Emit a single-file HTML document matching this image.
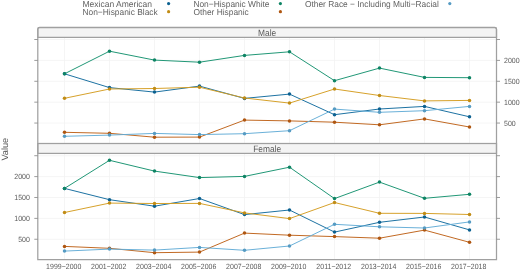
<!DOCTYPE html>
<html><head><meta charset="utf-8"><style>
html,body{margin:0;padding:0;background:#fff;}
body{width:520px;height:269px;overflow:hidden;}
svg{display:block;font-family:"Liberation Sans", sans-serif;filter:blur(0.35px);text-rendering:geometricPrecision;}
</style></head><body>
<svg width="520" height="269" viewBox="0 0 520 269">
<rect x="0" y="0" width="520" height="269" fill="#fff"/>
<line x1="37.8" y1="123.06" x2="496.5" y2="123.06" stroke="#f3f3f3" stroke-width="0.8"/>
<line x1="37.8" y1="102.17" x2="496.5" y2="102.17" stroke="#f3f3f3" stroke-width="0.8"/>
<line x1="37.8" y1="81.29" x2="496.5" y2="81.29" stroke="#f3f3f3" stroke-width="0.8"/>
<line x1="37.8" y1="60.40" x2="496.5" y2="60.40" stroke="#f3f3f3" stroke-width="0.8"/>
<line x1="37.8" y1="39.51" x2="496.5" y2="39.51" stroke="#f3f3f3" stroke-width="0.8"/>
<line x1="64.5" y1="37.4" x2="64.5" y2="143.5" stroke="#f3f3f3" stroke-width="0.8"/>
<line x1="109.5" y1="37.4" x2="109.5" y2="143.5" stroke="#f3f3f3" stroke-width="0.8"/>
<line x1="154.5" y1="37.4" x2="154.5" y2="143.5" stroke="#f3f3f3" stroke-width="0.8"/>
<line x1="199.5" y1="37.4" x2="199.5" y2="143.5" stroke="#f3f3f3" stroke-width="0.8"/>
<line x1="244.5" y1="37.4" x2="244.5" y2="143.5" stroke="#f3f3f3" stroke-width="0.8"/>
<line x1="289.5" y1="37.4" x2="289.5" y2="143.5" stroke="#f3f3f3" stroke-width="0.8"/>
<line x1="334.5" y1="37.4" x2="334.5" y2="143.5" stroke="#f3f3f3" stroke-width="0.8"/>
<line x1="379.5" y1="37.4" x2="379.5" y2="143.5" stroke="#f3f3f3" stroke-width="0.8"/>
<line x1="424.5" y1="37.4" x2="424.5" y2="143.5" stroke="#f3f3f3" stroke-width="0.8"/>
<line x1="469.5" y1="37.4" x2="469.5" y2="143.5" stroke="#f3f3f3" stroke-width="0.8"/>
<line x1="37.8" y1="239.26" x2="496.5" y2="239.26" stroke="#f3f3f3" stroke-width="0.8"/>
<line x1="37.8" y1="218.38" x2="496.5" y2="218.38" stroke="#f3f3f3" stroke-width="0.8"/>
<line x1="37.8" y1="197.49" x2="496.5" y2="197.49" stroke="#f3f3f3" stroke-width="0.8"/>
<line x1="37.8" y1="176.60" x2="496.5" y2="176.60" stroke="#f3f3f3" stroke-width="0.8"/>
<line x1="37.8" y1="155.71" x2="496.5" y2="155.71" stroke="#f3f3f3" stroke-width="0.8"/>
<line x1="64.5" y1="153.4" x2="64.5" y2="259.7" stroke="#f3f3f3" stroke-width="0.8"/>
<line x1="109.5" y1="153.4" x2="109.5" y2="259.7" stroke="#f3f3f3" stroke-width="0.8"/>
<line x1="154.5" y1="153.4" x2="154.5" y2="259.7" stroke="#f3f3f3" stroke-width="0.8"/>
<line x1="199.5" y1="153.4" x2="199.5" y2="259.7" stroke="#f3f3f3" stroke-width="0.8"/>
<line x1="244.5" y1="153.4" x2="244.5" y2="259.7" stroke="#f3f3f3" stroke-width="0.8"/>
<line x1="289.5" y1="153.4" x2="289.5" y2="259.7" stroke="#f3f3f3" stroke-width="0.8"/>
<line x1="334.5" y1="153.4" x2="334.5" y2="259.7" stroke="#f3f3f3" stroke-width="0.8"/>
<line x1="379.5" y1="153.4" x2="379.5" y2="259.7" stroke="#f3f3f3" stroke-width="0.8"/>
<line x1="424.5" y1="153.4" x2="424.5" y2="259.7" stroke="#f3f3f3" stroke-width="0.8"/>
<line x1="469.5" y1="153.4" x2="469.5" y2="259.7" stroke="#f3f3f3" stroke-width="0.8"/>
<polyline points="64.5,73.8 109.5,87.6 154.5,92.1 199.5,86.1 244.5,98.4 289.5,94.1 334.5,114.7 379.5,109.0 424.5,106.4 469.5,116.8" fill="none" stroke="#116a9d" stroke-width="0.95"/>
<polyline points="64.5,98.3 109.5,89.0 154.5,88.5 199.5,87.2 244.5,98.0 289.5,103.1 334.5,89.0 379.5,95.5 424.5,100.9 469.5,100.4" fill="none" stroke="#d49c20" stroke-width="0.95"/>
<polyline points="64.5,73.8 109.5,51.2 154.5,60.1 199.5,62.2 244.5,55.4 289.5,51.8 334.5,80.7 379.5,68.1 424.5,77.4 469.5,77.7" fill="none" stroke="#15916f" stroke-width="0.95"/>
<polyline points="64.5,132.3 109.5,133.3 154.5,137.2 199.5,137.1 244.5,120.1 289.5,120.9 334.5,122.2 379.5,124.8 424.5,118.9 469.5,127.0" fill="none" stroke="#be6117" stroke-width="0.95"/>
<polyline points="64.5,136.3 109.5,135.1 154.5,133.4 199.5,134.6 244.5,133.7 289.5,130.7 334.5,109.1 379.5,112.3 424.5,110.7 469.5,106.4" fill="none" stroke="#62acd6" stroke-width="0.95"/>
<circle cx="64.5" cy="73.8" r="1.75" fill="#0c6191"/>
<circle cx="109.5" cy="87.6" r="1.75" fill="#0c6191"/>
<circle cx="154.5" cy="92.1" r="1.75" fill="#0c6191"/>
<circle cx="199.5" cy="86.1" r="1.75" fill="#0c6191"/>
<circle cx="244.5" cy="98.4" r="1.75" fill="#0c6191"/>
<circle cx="289.5" cy="94.1" r="1.75" fill="#0c6191"/>
<circle cx="334.5" cy="114.7" r="1.75" fill="#0c6191"/>
<circle cx="379.5" cy="109.0" r="1.75" fill="#0c6191"/>
<circle cx="424.5" cy="106.4" r="1.75" fill="#0c6191"/>
<circle cx="469.5" cy="116.8" r="1.75" fill="#0c6191"/>
<circle cx="64.5" cy="98.3" r="1.75" fill="#c18c15"/>
<circle cx="109.5" cy="89.0" r="1.75" fill="#c18c15"/>
<circle cx="154.5" cy="88.5" r="1.75" fill="#c18c15"/>
<circle cx="199.5" cy="87.2" r="1.75" fill="#c18c15"/>
<circle cx="244.5" cy="98.0" r="1.75" fill="#c18c15"/>
<circle cx="289.5" cy="103.1" r="1.75" fill="#c18c15"/>
<circle cx="334.5" cy="89.0" r="1.75" fill="#c18c15"/>
<circle cx="379.5" cy="95.5" r="1.75" fill="#c18c15"/>
<circle cx="424.5" cy="100.9" r="1.75" fill="#c18c15"/>
<circle cx="469.5" cy="100.4" r="1.75" fill="#c18c15"/>
<circle cx="64.5" cy="73.8" r="1.75" fill="#0e8464"/>
<circle cx="109.5" cy="51.2" r="1.75" fill="#0e8464"/>
<circle cx="154.5" cy="60.1" r="1.75" fill="#0e8464"/>
<circle cx="199.5" cy="62.2" r="1.75" fill="#0e8464"/>
<circle cx="244.5" cy="55.4" r="1.75" fill="#0e8464"/>
<circle cx="289.5" cy="51.8" r="1.75" fill="#0e8464"/>
<circle cx="334.5" cy="80.7" r="1.75" fill="#0e8464"/>
<circle cx="379.5" cy="68.1" r="1.75" fill="#0e8464"/>
<circle cx="424.5" cy="77.4" r="1.75" fill="#0e8464"/>
<circle cx="469.5" cy="77.7" r="1.75" fill="#0e8464"/>
<circle cx="64.5" cy="132.3" r="1.75" fill="#af5610"/>
<circle cx="109.5" cy="133.3" r="1.75" fill="#af5610"/>
<circle cx="154.5" cy="137.2" r="1.75" fill="#af5610"/>
<circle cx="199.5" cy="137.1" r="1.75" fill="#af5610"/>
<circle cx="244.5" cy="120.1" r="1.75" fill="#af5610"/>
<circle cx="289.5" cy="120.9" r="1.75" fill="#af5610"/>
<circle cx="334.5" cy="122.2" r="1.75" fill="#af5610"/>
<circle cx="379.5" cy="124.8" r="1.75" fill="#af5610"/>
<circle cx="424.5" cy="118.9" r="1.75" fill="#af5610"/>
<circle cx="469.5" cy="127.0" r="1.75" fill="#af5610"/>
<circle cx="64.5" cy="136.3" r="1.75" fill="#559bc3"/>
<circle cx="109.5" cy="135.1" r="1.75" fill="#559bc3"/>
<circle cx="154.5" cy="133.4" r="1.75" fill="#559bc3"/>
<circle cx="199.5" cy="134.6" r="1.75" fill="#559bc3"/>
<circle cx="244.5" cy="133.7" r="1.75" fill="#559bc3"/>
<circle cx="289.5" cy="130.7" r="1.75" fill="#559bc3"/>
<circle cx="334.5" cy="109.1" r="1.75" fill="#559bc3"/>
<circle cx="379.5" cy="112.3" r="1.75" fill="#559bc3"/>
<circle cx="424.5" cy="110.7" r="1.75" fill="#559bc3"/>
<circle cx="469.5" cy="106.4" r="1.75" fill="#559bc3"/>
<polyline points="64.5,188.4 109.5,199.7 154.5,206.2 199.5,198.5 244.5,214.6 289.5,210.0 334.5,232.1 379.5,222.3 424.5,217.0 469.5,229.9" fill="none" stroke="#116a9d" stroke-width="0.95"/>
<polyline points="64.5,212.5 109.5,203.1 154.5,203.5 199.5,203.4 244.5,212.9 289.5,218.6 334.5,202.5 379.5,213.3 424.5,213.4 469.5,214.5" fill="none" stroke="#d49c20" stroke-width="0.95"/>
<polyline points="64.5,188.4 109.5,160.3 154.5,171.1 199.5,177.6 244.5,176.4 289.5,167.2 334.5,198.6 379.5,182.1 424.5,198.3 469.5,194.3" fill="none" stroke="#15916f" stroke-width="0.95"/>
<polyline points="64.5,246.4 109.5,248.3 154.5,252.7 199.5,252.1 244.5,233.1 289.5,235.2 334.5,236.6 379.5,238.2 424.5,230.1 469.5,242.3" fill="none" stroke="#be6117" stroke-width="0.95"/>
<polyline points="64.5,251.1 109.5,249.1 154.5,250.1 199.5,247.4 244.5,250.3 289.5,246.0 334.5,224.3 379.5,226.8 424.5,228.0 469.5,221.9" fill="none" stroke="#62acd6" stroke-width="0.95"/>
<circle cx="64.5" cy="188.4" r="1.75" fill="#0c6191"/>
<circle cx="109.5" cy="199.7" r="1.75" fill="#0c6191"/>
<circle cx="154.5" cy="206.2" r="1.75" fill="#0c6191"/>
<circle cx="199.5" cy="198.5" r="1.75" fill="#0c6191"/>
<circle cx="244.5" cy="214.6" r="1.75" fill="#0c6191"/>
<circle cx="289.5" cy="210.0" r="1.75" fill="#0c6191"/>
<circle cx="334.5" cy="232.1" r="1.75" fill="#0c6191"/>
<circle cx="379.5" cy="222.3" r="1.75" fill="#0c6191"/>
<circle cx="424.5" cy="217.0" r="1.75" fill="#0c6191"/>
<circle cx="469.5" cy="229.9" r="1.75" fill="#0c6191"/>
<circle cx="64.5" cy="212.5" r="1.75" fill="#c18c15"/>
<circle cx="109.5" cy="203.1" r="1.75" fill="#c18c15"/>
<circle cx="154.5" cy="203.5" r="1.75" fill="#c18c15"/>
<circle cx="199.5" cy="203.4" r="1.75" fill="#c18c15"/>
<circle cx="244.5" cy="212.9" r="1.75" fill="#c18c15"/>
<circle cx="289.5" cy="218.6" r="1.75" fill="#c18c15"/>
<circle cx="334.5" cy="202.5" r="1.75" fill="#c18c15"/>
<circle cx="379.5" cy="213.3" r="1.75" fill="#c18c15"/>
<circle cx="424.5" cy="213.4" r="1.75" fill="#c18c15"/>
<circle cx="469.5" cy="214.5" r="1.75" fill="#c18c15"/>
<circle cx="64.5" cy="188.4" r="1.75" fill="#0e8464"/>
<circle cx="109.5" cy="160.3" r="1.75" fill="#0e8464"/>
<circle cx="154.5" cy="171.1" r="1.75" fill="#0e8464"/>
<circle cx="199.5" cy="177.6" r="1.75" fill="#0e8464"/>
<circle cx="244.5" cy="176.4" r="1.75" fill="#0e8464"/>
<circle cx="289.5" cy="167.2" r="1.75" fill="#0e8464"/>
<circle cx="334.5" cy="198.6" r="1.75" fill="#0e8464"/>
<circle cx="379.5" cy="182.1" r="1.75" fill="#0e8464"/>
<circle cx="424.5" cy="198.3" r="1.75" fill="#0e8464"/>
<circle cx="469.5" cy="194.3" r="1.75" fill="#0e8464"/>
<circle cx="64.5" cy="246.4" r="1.75" fill="#af5610"/>
<circle cx="109.5" cy="248.3" r="1.75" fill="#af5610"/>
<circle cx="154.5" cy="252.7" r="1.75" fill="#af5610"/>
<circle cx="199.5" cy="252.1" r="1.75" fill="#af5610"/>
<circle cx="244.5" cy="233.1" r="1.75" fill="#af5610"/>
<circle cx="289.5" cy="235.2" r="1.75" fill="#af5610"/>
<circle cx="334.5" cy="236.6" r="1.75" fill="#af5610"/>
<circle cx="379.5" cy="238.2" r="1.75" fill="#af5610"/>
<circle cx="424.5" cy="230.1" r="1.75" fill="#af5610"/>
<circle cx="469.5" cy="242.3" r="1.75" fill="#af5610"/>
<circle cx="64.5" cy="251.1" r="1.75" fill="#559bc3"/>
<circle cx="109.5" cy="249.1" r="1.75" fill="#559bc3"/>
<circle cx="154.5" cy="250.1" r="1.75" fill="#559bc3"/>
<circle cx="199.5" cy="247.4" r="1.75" fill="#559bc3"/>
<circle cx="244.5" cy="250.3" r="1.75" fill="#559bc3"/>
<circle cx="289.5" cy="246.0" r="1.75" fill="#559bc3"/>
<circle cx="334.5" cy="224.3" r="1.75" fill="#559bc3"/>
<circle cx="379.5" cy="226.8" r="1.75" fill="#559bc3"/>
<circle cx="424.5" cy="228.0" r="1.75" fill="#559bc3"/>
<circle cx="469.5" cy="221.9" r="1.75" fill="#559bc3"/>
<path d="M37.8,37.4 V29.3 Q37.8,27.5 39.599999999999994,27.5 H494.7 Q496.5,27.5 496.5,29.3 V37.4 Z" fill="#f4f4f4" stroke="#a0a0a0" stroke-width="1.25"/>
<text transform="translate(267.15,35.80) scale(1,1.1)" font-size="8.4" fill="#5a5a5a" text-anchor="middle">Male</text>
<rect x="37.8" y="143.5" width="458.7" height="9.900000000000006" fill="#f4f4f4" stroke="#a0a0a0" stroke-width="1.25"/>
<text transform="translate(267.15,151.80) scale(1,1.1)" font-size="8.4" fill="#5a5a5a" text-anchor="middle">Female</text>
<path d="M37.8,259.7 V29.2 Q37.8,27.4 39.599999999999994,27.4 H494.7 Q496.5,27.4 496.5,29.2 V259.7 Z" fill="none" stroke="#a0a0a0" stroke-width="1.25"/>
<line x1="34.3" y1="123.06" x2="37.8" y2="123.06" stroke="#8a8a8a" stroke-width="0.85"/>
<line x1="496.5" y1="123.06" x2="500.0" y2="123.06" stroke="#8a8a8a" stroke-width="0.85"/>
<line x1="34.3" y1="102.17" x2="37.8" y2="102.17" stroke="#8a8a8a" stroke-width="0.85"/>
<line x1="496.5" y1="102.17" x2="500.0" y2="102.17" stroke="#8a8a8a" stroke-width="0.85"/>
<line x1="34.3" y1="81.29" x2="37.8" y2="81.29" stroke="#8a8a8a" stroke-width="0.85"/>
<line x1="496.5" y1="81.29" x2="500.0" y2="81.29" stroke="#8a8a8a" stroke-width="0.85"/>
<line x1="34.3" y1="60.40" x2="37.8" y2="60.40" stroke="#8a8a8a" stroke-width="0.85"/>
<line x1="496.5" y1="60.40" x2="500.0" y2="60.40" stroke="#8a8a8a" stroke-width="0.85"/>
<line x1="34.3" y1="39.51" x2="37.8" y2="39.51" stroke="#8a8a8a" stroke-width="0.85"/>
<line x1="496.5" y1="39.51" x2="500.0" y2="39.51" stroke="#8a8a8a" stroke-width="0.85"/>
<line x1="34.3" y1="239.26" x2="37.8" y2="239.26" stroke="#8a8a8a" stroke-width="0.85"/>
<line x1="496.5" y1="239.26" x2="500.0" y2="239.26" stroke="#8a8a8a" stroke-width="0.85"/>
<line x1="34.3" y1="218.38" x2="37.8" y2="218.38" stroke="#8a8a8a" stroke-width="0.85"/>
<line x1="496.5" y1="218.38" x2="500.0" y2="218.38" stroke="#8a8a8a" stroke-width="0.85"/>
<line x1="34.3" y1="197.49" x2="37.8" y2="197.49" stroke="#8a8a8a" stroke-width="0.85"/>
<line x1="496.5" y1="197.49" x2="500.0" y2="197.49" stroke="#8a8a8a" stroke-width="0.85"/>
<line x1="34.3" y1="176.60" x2="37.8" y2="176.60" stroke="#8a8a8a" stroke-width="0.85"/>
<line x1="496.5" y1="176.60" x2="500.0" y2="176.60" stroke="#8a8a8a" stroke-width="0.85"/>
<line x1="34.3" y1="155.71" x2="37.8" y2="155.71" stroke="#8a8a8a" stroke-width="0.85"/>
<line x1="496.5" y1="155.71" x2="500.0" y2="155.71" stroke="#8a8a8a" stroke-width="0.85"/>
<text transform="translate(504.0,125.66) scale(1,1.08)" font-size="7.0" fill="#5a5a5a">500</text>
<text transform="translate(29.9,241.86) scale(1,1.08)" font-size="7.0" fill="#5a5a5a" text-anchor="end">500</text>
<text transform="translate(504.0,104.77) scale(1,1.08)" font-size="7.0" fill="#5a5a5a">1000</text>
<text transform="translate(29.9,220.97) scale(1,1.08)" font-size="7.0" fill="#5a5a5a" text-anchor="end">1000</text>
<text transform="translate(504.0,83.89) scale(1,1.08)" font-size="7.0" fill="#5a5a5a">1500</text>
<text transform="translate(29.9,200.09) scale(1,1.08)" font-size="7.0" fill="#5a5a5a" text-anchor="end">1500</text>
<text transform="translate(504.0,63.00) scale(1,1.08)" font-size="7.0" fill="#5a5a5a">2000</text>
<text transform="translate(29.9,179.20) scale(1,1.08)" font-size="7.0" fill="#5a5a5a" text-anchor="end">2000</text>
<text transform="translate(63.7,268.6) scale(1,1.08)" font-size="7.0" fill="#5a5a5a" text-anchor="middle">1999−2000</text>
<text transform="translate(108.7,268.6) scale(1,1.08)" font-size="7.0" fill="#5a5a5a" text-anchor="middle">2001−2002</text>
<text transform="translate(153.7,268.6) scale(1,1.08)" font-size="7.0" fill="#5a5a5a" text-anchor="middle">2003−2004</text>
<text transform="translate(198.7,268.6) scale(1,1.08)" font-size="7.0" fill="#5a5a5a" text-anchor="middle">2005−2006</text>
<text transform="translate(243.7,268.6) scale(1,1.08)" font-size="7.0" fill="#5a5a5a" text-anchor="middle">2007−2008</text>
<text transform="translate(288.7,268.6) scale(1,1.08)" font-size="7.0" fill="#5a5a5a" text-anchor="middle">2009−2010</text>
<text transform="translate(333.7,268.6) scale(1,1.08)" font-size="7.0" fill="#5a5a5a" text-anchor="middle">2011−2012</text>
<text transform="translate(378.7,268.6) scale(1,1.08)" font-size="7.0" fill="#5a5a5a" text-anchor="middle">2013−2014</text>
<text transform="translate(423.7,268.6) scale(1,1.08)" font-size="7.0" fill="#5a5a5a" text-anchor="middle">2015−2016</text>
<text transform="translate(468.7,268.6) scale(1,1.08)" font-size="7.0" fill="#5a5a5a" text-anchor="middle">2017−2018</text>
<text transform="translate(7.8,149.2) rotate(-90)" font-size="9.2" fill="#5a5a5a" text-anchor="middle">Value</text>
<text transform="translate(82.5,6.60) scale(1,1.03)" font-size="8.4" fill="#646464" textLength="69.50" lengthAdjust="spacingAndGlyphs">Mexican American</text>
<circle cx="168.6" cy="3.6" r="1.6" fill="#0c6191"/>
<text transform="translate(82.5,14.70) scale(1,1.03)" font-size="8.4" fill="#646464">Non−Hispanic Black</text>
<circle cx="168.6" cy="11.7" r="1.6" fill="#c18c15"/>
<text transform="translate(193.4,6.60) scale(1,1.03)" font-size="8.4" fill="#646464">Non−Hispanic White</text>
<circle cx="280.4" cy="3.6" r="1.6" fill="#0e8464"/>
<text transform="translate(193.4,14.70) scale(1,1.03)" font-size="8.4" fill="#646464">Other Hispanic</text>
<circle cx="280.4" cy="11.7" r="1.6" fill="#af5610"/>
<text transform="translate(305.0,6.60) scale(1,1.03)" font-size="8.4" fill="#646464" textLength="133.80" lengthAdjust="spacingAndGlyphs">Other Race − Including Multi−Racial</text>
<circle cx="449.8" cy="3.6" r="1.6" fill="#559bc3"/>
</svg>
</body></html>
